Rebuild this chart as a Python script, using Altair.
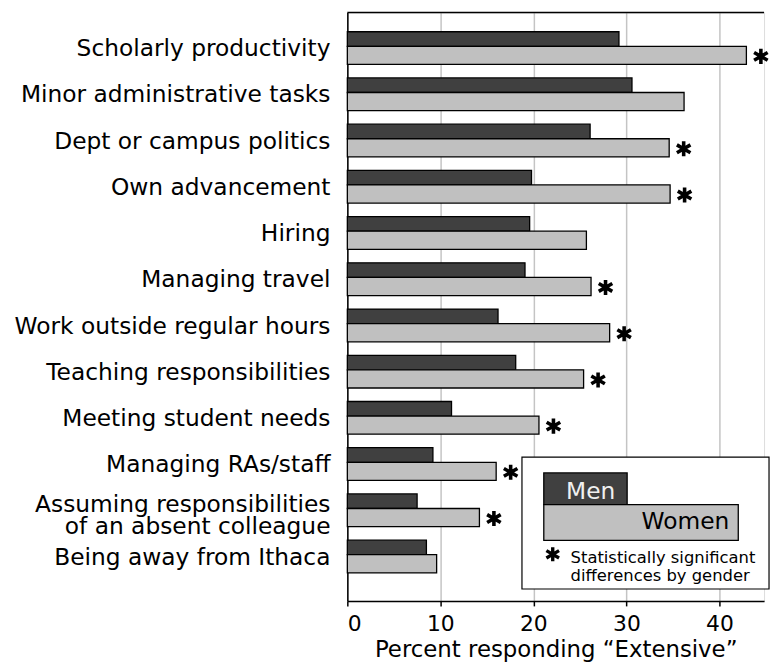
import altair as alt
import pandas as pd

categories = [
    "Scholarly productivity",
    "Minor administrative tasks",
    "Dept or campus politics",
    "Own advancement",
    "Hiring",
    "Managing travel",
    "Work outside regular hours",
    "Teaching responsibilities",
    "Meeting student needs",
    "Managing RAs/staff",
    "Assuming responsibilities\nof an absent colleague",
    "Being away from Ithaca",
]
men = [29.2, 30.6, 26.1, 19.8, 19.6, 19.1, 16.2, 18.1, 11.2, 9.2, 7.5, 8.5]
women = [42.9, 36.2, 34.6, 34.7, 25.7, 26.2, 28.2, 25.4, 20.6, 16.0, 14.2, 9.6]
significant = [True, False, True, True, False, True, True, True, True, True, True, False]
x_ticks = [0, 10, 20, 30, 40]
genders = ["Men", "Women"]
legend_note = "Statistically significant\ndifferences by gender"

FONT = "DejaVu Sans"
W, H = 420, 593
MEN_T, WOMEN_T = 0.315, 0.393

rows = pd.DataFrame({
    "row": list(range(len(categories))),
    "category": categories,
    "men": men,
    "women": women,
    "sig": significant,
})

bars_df = pd.concat([
    pd.DataFrame({"row": rows["row"], "gender": "Men", "value": rows["men"],
                  "y0": rows["row"] - MEN_T, "y1": rows["row"] + 0.0}),
    pd.DataFrame({"row": rows["row"], "gender": "Women", "value": rows["women"],
                  "y0": rows["row"] + 0.0, "y1": rows["row"] + WOMEN_T}),
])

xs = alt.Scale(domain=[0, 44.8], nice=False, zero=True)
ys = alt.Scale(domain=[-0.73, 12.0], reverse=True, nice=False, zero=False)

bars = alt.Chart(bars_df).mark_bar(stroke="black", strokeWidth=1.3).encode(
    x=alt.X("value:Q", scale=xs,
            axis=alt.Axis(values=x_ticks, grid=True, gridColor="#c4c4c4", gridWidth=1.5,
                          domainColor="black", domainWidth=1.5, tickColor="black",
                          tickWidth=1.5, tickSize=5, labelFontSize=22, labelColor="black",
                          labelFont=FONT, labelPadding=8, title='Percent responding \u201cExtensive\u201d',
                          titleFont=FONT, titleFontSize=23, titleFontWeight="normal",
                          titleColor="black", titlePadding=4)),
    x2=alt.X2(datum=0),
    y=alt.Y("y0:Q", scale=ys,
            axis=alt.Axis(labels=False, ticks=False, grid=False, title=None,
                          domainColor="black", domainWidth=1.5)),
    y2="y1:Q",
    color=alt.Color("gender:N", scale=alt.Scale(domain=genders, range=["#404040", "#c0c0c0"]),
                    legend=None),
)

top_line = alt.Chart(pd.DataFrame({"a": [0]})).mark_rule(color="black", strokeWidth=1.5).encode(
    x=alt.value(0), x2=alt.value(W), y=alt.value(0)
)

labels_single = alt.Chart(rows).transform_filter(
    "indexof(datum.category, '\\n') < 0"
).mark_text(
    align="right", baseline="middle", dx=-17, dy=3, fontSize=23.5, font=FONT, color="black"
).encode(
    x=alt.X(datum=0, scale=xs),
    y=alt.Y("row:Q", scale=ys),
    text="category:N",
)

labels_multi = alt.Chart(rows).transform_filter(
    "indexof(datum.category, '\\n') >= 0"
).mark_text(
    align="right", baseline="middle", dx=-17, dy=-3, fontSize=23.5, font=FONT,
    lineBreak="\n", lineHeight=21.5, color="black"
).encode(
    x=alt.X(datum=0, scale=xs),
    y=alt.Y("row:Q", scale=ys),
    text="category:N",
)

ASTER = "M0,-1L0,1M-0.9,-0.52L0.9,0.52M-0.9,0.52L0.9,-0.52"

stars = alt.Chart(rows).transform_filter("datum.sig").transform_calculate(
    yc=f"datum.row + {WOMEN_T / 2}"
).mark_point(shape=ASTER, size=230, strokeWidth=3.6, color="black", filled=False,
             opacity=1, xOffset=14.6, yOffset=1).encode(
    x=alt.X("women:Q", scale=xs),
    y=alt.Y("yc:Q", scale=ys),
)

one = pd.DataFrame({"a": [0]})
frame = alt.Chart(one).mark_rect(fill="white", stroke="black", strokeWidth=1.2).encode(
    x=alt.value(176), x2=alt.value(425), y=alt.value(448), y2=alt.value(581)
)
men_box = alt.Chart(one).mark_rect(fill="#404040", stroke="black", strokeWidth=1.3).encode(
    x=alt.value(198), x2=alt.value(282), y=alt.value(464), y2=alt.value(496)
)
women_box = alt.Chart(one).mark_rect(fill="#c0c0c0", stroke="black", strokeWidth=1.3).encode(
    x=alt.value(198), x2=alt.value(394), y=alt.value(496), y2=alt.value(532)
)
men_txt = alt.Chart(one).mark_text(
    text=genders[0], align="right", baseline="alphabetic", fontSize=23.5, font=FONT, color="#f0f0f0"
).encode(x=alt.value(270), y=alt.value(490))
women_txt = alt.Chart(one).mark_text(
    text=genders[1], align="right", baseline="alphabetic", fontSize=23.5, font=FONT, color="black"
).encode(x=alt.value(385), y=alt.value(521))
leg_star = alt.Chart(one).mark_point(shape=ASTER, size=200, strokeWidth=3.4, color="black",
                                     filled=False, opacity=1).encode(
    x=alt.value(207), y=alt.value(546)
)
note_txt = alt.Chart(one).mark_text(
    text=legend_note, align="left", baseline="alphabetic", fontSize=16.5, font=FONT,
    color="black", lineBreak="\n", lineHeight=18
).encode(x=alt.value(225), y=alt.value(555))

chart = alt.layer(
    bars, top_line, labels_single, labels_multi, stars, frame, men_box, women_box,
    men_txt, women_txt, leg_star, note_txt
).properties(
    width=W, height=H,
    autosize=alt.AutoSizeParams(type="none"),
    padding={"left": 342, "top": 2, "right": 8, "bottom": 65},
).configure_view(stroke=None).configure(background="white")

chart.save("out.html", embed_options={"renderer": "svg", "actions": False})
